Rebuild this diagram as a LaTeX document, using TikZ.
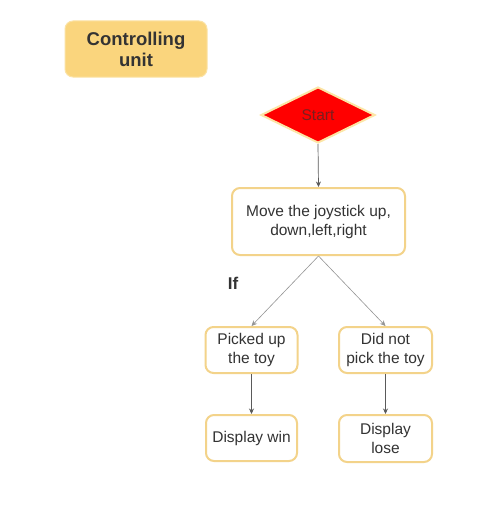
\documentclass[tikz,border=0pt]{standalone}
\usepackage{fontspec}
\setmainfont{Liberation Sans}
\usetikzlibrary{shapes.geometric,arrows.meta}
\definecolor{boxborder}{HTML}{F3D38A}
\definecolor{unitfill}{HTML}{FAD57D}
\definecolor{txt}{HTML}{333333}
\definecolor{lineg}{HTML}{5A5A5A}
\definecolor{starttxt}{HTML}{7A1E1E}
\definecolor{glow}{HTML}{FCE6A6}
\tikzset{
  x=1pt, y=-1pt,
  flowbox/.style={draw=boxborder, line width=2pt, fill=white, rounded corners=8pt,
    align=center, text=txt, inner sep=0pt, font=\fontsize{15.5}{19}\selectfont},
  conn/.style={draw=lineg, line width=0.7pt, -{Stealth[length=5.5pt,width=5pt]}},
  connlight/.style={draw=lineg!65, line width=0.6pt, -{Stealth[length=5.5pt,width=5pt]}}
}
\begin{document}
\begin{tikzpicture}
\useasboundingbox[fill=white] (0,0) rectangle (481,511);
% Controlling unit
\node[fill=unitfill, draw=unitfill!70!white, line width=1pt, rounded corners=8pt, minimum width=142pt, minimum height=56pt,
  align=center, text=txt, inner sep=0pt, font=\bfseries\fontsize{18.5}{21}\selectfont] (unit) at (136,49) {Controlling\\unit};
% Start diamond
\node[diamond, fill=red, draw=glow, line width=2pt, minimum width=114pt, minimum height=56pt, inner sep=0pt,
  text=starttxt, font=\fontsize{15.5}{17}\selectfont] (start) at (318,115) {Start};
% Move box
\node[flowbox, minimum width=173pt, minimum height=67pt] (move) at (318.5,221.5) {Move the joystick up,\\down,left,right};
% If label
\node[text=txt, font=\bfseries\fontsize{17}{20}\selectfont, inner sep=0pt] (iflabel) at (233,283) {If};
% Branches
\node[flowbox, minimum width=92pt, minimum height=46pt] (picked) at (251.5,350) {Picked up\\the toy};
\node[flowbox, minimum width=93pt, minimum height=46pt] (didnot) at (385.5,350) {Did not\\pick the toy};
\node[flowbox, minimum width=91pt, minimum height=46pt] (win) at (251.5,438) {Display win};
\node[flowbox, minimum width=93pt, minimum height=47pt] (lose) at (385.5,438.5) {Display\\lose};
% Connectors
\draw[conn] (start.south) -- (move.north);
\draw[connlight] (move.south) -- (picked.north);
\draw[connlight] (move.south) -- (didnot.north);
\draw[conn] (picked.south) -- (win.north);
\draw[conn] (didnot.south) -- (lose.north);
\end{tikzpicture}
\end{document}
